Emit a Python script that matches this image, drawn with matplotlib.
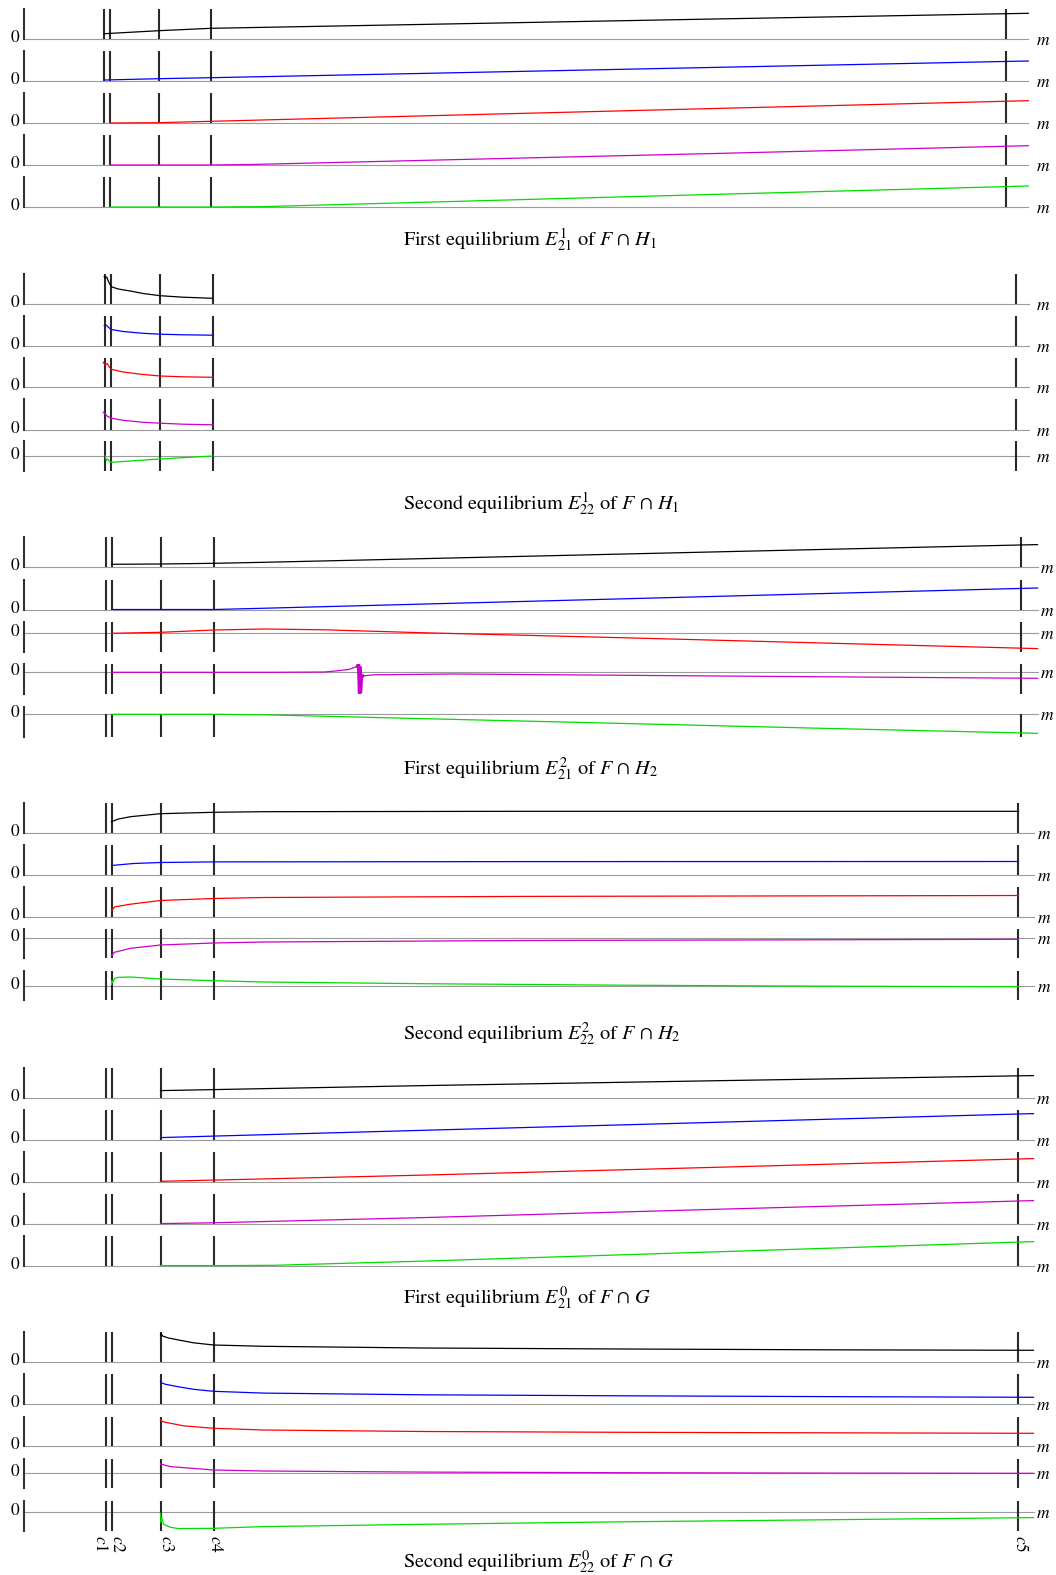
#!/usr/bin/env python
# coding: utf-8

import matplotlib
matplotlib.use("Agg")
import matplotlib.pyplot as plt


plt.rcParams['font.family'] = ['STIXGeneral', 'DejaVu Serif']
plt.rcParams['mathtext.fontset'] = 'stix'

W, H, DPI = 1056, 1575, 100
PX_PER_UNIT = 10.0   # vertical scale of every panel (pixels per unit)
X0 = 23.5            # pixel column of the y axis (m = 0)

COLORS = ['black', '#0000ff', '#ff0000', '#cc00cc', '#00dd00']

# critical values of the parameter m
c_marks = [0.82, 0.88, 1.37, 1.90, 9.95]
c_labels = ['$c1$', '$c2$', '$c3$', '$c4$', '$c5$']

titles = [
    r'First equilibrium $E_{21}^{1}$ of $F\,\cap\,H_1$',
    r'Second equilibrium $E_{22}^{1}$ of $F\,\cap\,H_1$',
    r'First equilibrium $E_{21}^{2}$ of $F\,\cap\,H_2$',
    r'Second equilibrium $E_{22}^{2}$ of $F\,\cap\,H_2$',
    r'First equilibrium $E_{21}^{0}$ of $F\,\cap\,G$',
    r'Second equilibrium $E_{22}^{0}$ of $F\,\cap\,G$',
]

# ---- First equilibrium of F n H1 (m values, component values)
h1_first_m = [
    [0.82, 1.37, 1.90, 4.0, 7.0, 10.18],
    [0.82, 1.37, 1.90, 4.0, 7.0, 10.18],
    [0.88, 1.37, 1.90, 4.0, 7.0, 10.18],
    [0.88, 1.90, 2.3, 4.0, 7.0, 10.18],
    [0.88, 1.90, 2.4, 4.0, 7.0, 10.18],
]
h1_first_v = [
    [0.53, 0.83, 1.07, 1.45, 2.0, 2.57],
    [0.10, 0.23, 0.33, 0.75, 1.36, 2.0],
    [0.0, 0.03, 0.17, 0.70, 1.45, 2.23],
    [0.0, 0.0, 0.05, 0.45, 1.15, 1.93],
    [0.0, 0.0, 0.03, 0.46, 1.26, 2.1],
]

# ---- Second equilibrium of F n H1
h1_second_m = [
    [0.81, 0.82, 0.835, 0.85, 0.86, 0.88, 0.95, 1.07, 1.2, 1.37, 1.6, 1.90],
    [0.81, 0.83, 0.86, 0.88, 1.0, 1.2, 1.37, 1.6, 1.90],
    [0.80, 0.82, 0.84, 0.86, 0.88, 1.0, 1.2, 1.37, 1.6, 1.90],
    [0.80, 0.82, 0.84, 0.88, 1.0, 1.2, 1.37, 1.6, 1.90],
    [0.82, 0.83, 0.84, 0.86, 0.88, 1.37, 1.90],
]
h1_second_v = [
    [2.75, 2.6, 2.7, 2.3, 2.1, 1.73, 1.5, 1.3, 1.05, 0.83, 0.68, 0.57],
    [2.0, 2.05, 1.75, 1.6, 1.4, 1.22, 1.13, 1.07, 1.03],
    [2.47, 2.2, 2.35, 2.0, 1.77, 1.5, 1.25, 1.1, 1.02, 0.97],
    [1.73, 1.55, 1.33, 1.13, 0.92, 0.72, 0.63, 0.53, 0.47],
    [0.0, -0.45, -0.3, -0.5, -0.63, -0.3, 0.0],
]

# ---- First equilibrium of F n H2
h2_first_m = [
    [0.88, 1.37, 1.90, 2.4, 5.0, 7.5, 10.11],
    [0.88, 1.90, 2.3, 5.0, 7.5, 10.11],
    [0.88, 1.37, 1.90, 2.4, 3.0, 4.0, 6.0, 8.0, 10.11],
    [0.88, 2.5, 3.0, 3.15, 3.25, 3.33, 3.37, 3.5, 4.3, 6.0, 8.0, 10.11],
    [0.88, 1.90, 2.4, 4.0, 6.0, 8.0, 10.11],
]
h2_first_v = [
    [0.3, 0.33, 0.4, 0.5, 1.1, 1.68, 2.27],
    [0.05, 0.05, 0.15, 0.86, 1.52, 2.2],
    [0.0, 0.1, 0.33, 0.43, 0.35, 0.05, -0.45, -0.98, -1.53],
    [0.0, 0.0, 0.03, 0.17, 0.3, 0.6, -0.37, -0.25, -0.17, -0.3, -0.45, -0.6],
    [0.0, 0.0, -0.05, -0.44, -0.92, -1.41, -1.9],
]
# oscillating burst of the fourth component
h2_first_spike_m = [3.33, 3.34, 3.35, 3.355, 3.36, 3.37, 3.38]
h2_first_spike_v = [0.6, 0.83, -2.07, 0.5, -2.0, -0.4, -0.37]

# ---- Second equilibrium of F n H2
h2_second_m = [
    [0.88, 0.95, 1.07, 1.37, 1.90, 2.4, 5.0, 9.95],
    [0.88, 1.1, 1.37, 1.90, 5.0, 9.95],
    [0.88, 0.91, 1.07, 1.37, 1.90, 2.4, 5.0, 9.95],
    [0.88, 0.91, 1.07, 1.37, 1.90, 2.4, 5.0, 9.95],
    [0.88, 0.885, 0.89, 0.91, 0.94, 1.07, 1.37, 1.90, 2.4, 4.0, 6.0, 8.0, 9.95],
]
h2_second_v = [
    [1.13, 1.4, 1.63, 1.93, 2.07, 2.13, 2.17, 2.17],
    [0.97, 1.17, 1.27, 1.33, 1.36, 1.37],
    [0.63, 1.03, 1.3, 1.67, 1.87, 1.97, 2.08, 2.17],
    [-1.73, -1.4, -1.0, -0.67, -0.47, -0.37, -0.22, -0.1],
    [0.13, 0.5, 0.3, 0.7, 0.83, 0.87, 0.67, 0.5, 0.37, 0.2, 0.05, -0.05, -0.1],
]

# ---- First equilibrium of F n G
g_first_m = [
    [1.37, 1.90, 4.0, 7.0, 10.1],
    [1.37, 1.90, 4.0, 7.0, 10.1],
    [1.37, 1.90, 4.0, 7.0, 10.1],
    [1.37, 1.90, 4.0, 7.0, 10.1],
    [1.37, 2.0, 2.5, 4.0, 7.0, 10.1],
]
g_first_v = [
    [0.7, 0.8, 1.2, 1.7, 2.2],
    [0.2, 0.35, 0.93, 1.75, 2.6],
    [0.03, 0.15, 0.65, 1.45, 2.3],
    [0.0, 0.08, 0.6, 1.45, 2.3],
    [0.0, 0.0, 0.03, 0.45, 1.4, 2.4],
]

# ---- Second equilibrium of F n G
g_second_m = [
    [1.37, 1.375, 1.39, 1.45, 1.55, 1.7, 1.90, 2.4, 4.0, 6.0, 8.0, 10.1],
    [1.37, 1.38, 1.42, 1.55, 1.7, 1.90, 2.4, 4.0, 6.0, 8.0, 10.1],
    [1.37, 1.38, 1.42, 1.6, 1.90, 2.4, 4.0, 6.0, 8.0, 10.1],
    [1.37, 1.47, 1.90, 2.4, 4.0, 6.0, 8.0, 10.1],
    [1.37, 1.375, 1.385, 1.4, 1.47, 1.55, 1.90, 2.4, 4.0, 6.0, 8.0, 10.1],
]
g_second_v = [
    [2.63, 2.87, 2.6, 2.4, 2.2, 1.92, 1.7, 1.57, 1.4, 1.3, 1.22, 1.17],
    [2.3, 2.15, 2.0, 1.75, 1.5, 1.3, 1.12, 0.95, 0.85, 0.77, 0.7],
    [2.65, 2.5, 2.4, 2.05, 1.8, 1.63, 1.48, 1.4, 1.35, 1.3],
    [0.93, 0.67, 0.33, 0.23, 0.12, 0.06, 0.02, 0.0],
    [-0.1, -1.0, -0.6, -1.2, -1.5, -1.63, -1.6, -1.43, -1.2, -0.95, -0.75, -0.53],
]


# page layout: pixels per m unit, right end of the m axis, x of the "m" label,
# title baseline, and (top, bottom, zero line) pixel rows of the five panels
GROUPS = [
    dict(m=h1_first_m, v=h1_first_v, k=98.7, xmax=10.18, mx=1035.7, ty=246,
         rows=[(8.7, 39, 39), (51, 81, 81), (93, 123, 123), (135, 165, 165), (177, 207, 207)]),
    dict(m=h1_second_m, v=h1_second_v, k=99.7, xmax=10.09, mx=1035.7, ty=510,
         rows=[(274, 304, 304), (316, 345.5, 345.5), (358, 387, 387), (399.5, 429.5, 429.5),
               (441.3, 470.7, 456)]),
    dict(m=h2_first_m, v=h2_first_v, k=100.3, xmax=10.11, mx=1040, ty=775,
         rows=[(537.3, 567.3, 567.3), (580, 610, 610), (622.3, 651.7, 633.3),
               (664.3, 694, 672.3), (706.7, 736.7, 714.3)]),
    dict(m=h2_second_m, v=h2_second_v, k=100.0, xmax=10.1, mx=1036.7, ty=1040,
         rows=[(803.3, 833, 833), (845.3, 875.2, 875.2), (887.3, 917.2, 917.2),
               (929.3, 958.3, 938.3), (971, 1000, 985.7)]),
    dict(m=g_first_m, v=g_first_v, k=100.0, xmax=10.1, mx=1036.5, ty=1304,
         rows=[(1068, 1097.6, 1097.6), (1110, 1139.6, 1139.6), (1152, 1181.6, 1181.6),
               (1194, 1223.6, 1223.6), (1236, 1265.6, 1265.6)]),
    dict(m=g_second_m, v=g_second_v, k=100.0, xmax=10.1, mx=1035.7, ty=1568,
         rows=[(1332.3, 1362, 1362), (1374.3, 1404.3, 1404.3), (1416.7, 1446.3, 1446.3),
               (1458.7, 1488.3, 1473.3), (1501, 1530.7, 1512.3)]),
]


def fx(px):
    return px / W


def fy(py):
    return 1 - py / H


def draw_panel(fig, group, row, m_vals, v_vals, color, marks_from_zero=False):
    top, bottom, zero = row
    width = group['k'] * group['xmax']
    ax = fig.add_axes([fx(X0), fy(bottom), width / W, (bottom - top) / H])
    ax.set_xlim(0, group['xmax'])
    ymin, ymax = (zero - bottom) / PX_PER_UNIT, (zero - top) / PX_PER_UNIT
    ax.set_ylim(ymin, ymax)
    ax.axis('off')

    # m axis and value axis
    ax.plot([0, group['xmax']], [0, 0], color='#9a9a9a', lw=0.8, clip_on=False)
    ax.plot([0, 0], [ymin, ymax], color='#333333', lw=1.5, clip_on=False)
    # the critical values, drawn across the plot range
    hi = 0 if marks_from_zero else ymax
    ax.vlines(c_marks, ymin, hi, color='#2a2a2a', lw=1.5)

    ax.plot(m_vals, v_vals, color=color, lw=0.9, clip_on=False)

    fig.text(fx(19.5), fy(zero - 1), '0', ha='right', va='center', fontsize=12.5)
    fig.text(fx(group['mx']), fy(zero + 2), '$m$', ha='left', va='center', fontsize=12.5)
    return ax


def main():
    fig = plt.figure(figsize=(W / DPI, H / DPI), dpi=DPI)

    last_ax = None
    for gi, group in enumerate(GROUPS):
        for pi, row in enumerate(group['rows']):
            ax = draw_panel(fig, group, row, group['m'][pi], group['v'][pi], COLORS[pi],
                            marks_from_zero=(gi == 2 and pi == 4))
            if gi == 2 and pi == 3:
                ax.plot(h2_first_spike_m, h2_first_spike_v, color=COLORS[3], lw=2.4)
            last_ax = ax
        fig.text(fx(403), fy(group['ty']), titles[gi], ha='left', va='baseline',
                 fontsize=14.6)

    # labels of the critical values under the last panel
    offsets = [-5.3, 5.7, 5.7, 1.7, 2.3]
    ymin = last_ax.get_ylim()[0]
    for c, lbl, dx in zip(c_marks, c_labels, offsets):
        last_ax.annotate(lbl, xy=(c, ymin), xytext=(dx, -4), textcoords='offset pixels',
                         rotation=-90, ha='center', va='top', fontsize=12.5)

    fig.savefig('out.png', dpi=DPI)
    plt.close(fig)


if __name__ == "__main__":
    main()
